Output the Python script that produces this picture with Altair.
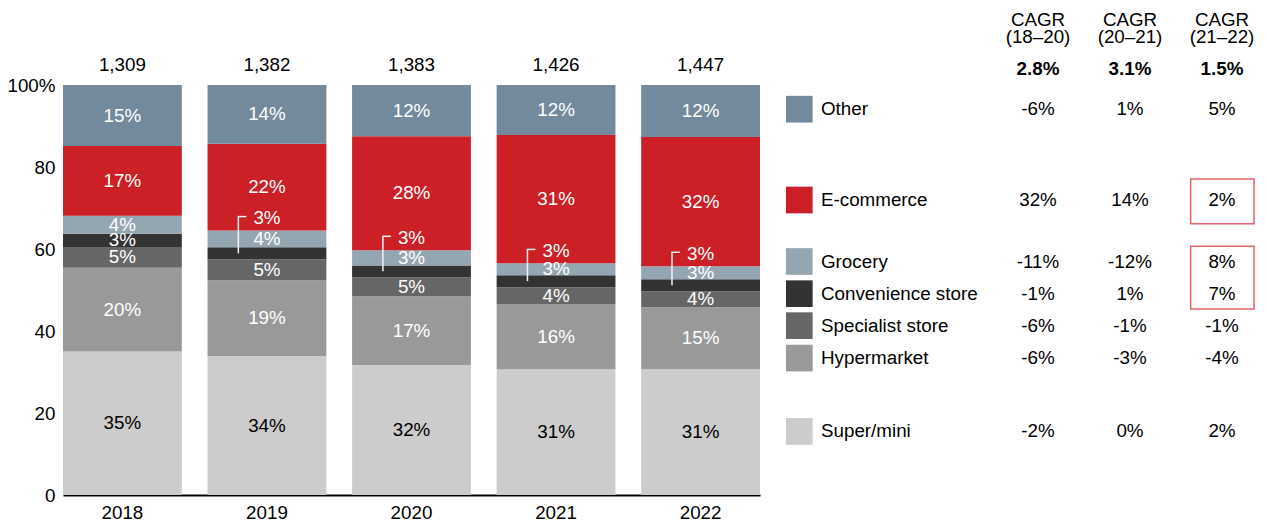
import altair as alt
import pandas as pd
import numpy as np

# ---------------- data ----------------
years = ["2018", "2019", "2020", "2021", "2022"]
totals = ["1,309", "1,382", "1,383", "1,426", "1,447"]

# stacking order: bottom -> top
categories = ["Super/mini", "Hypermarket", "Specialist store", "Convenience store",
              "Grocery", "E-commerce", "Other"]
colors = ["#cccccc", "#999999", "#666666", "#333333", "#95a6b3", "#cc1f26", "#728a9c"]
label_colors = ["#000000", "#ffffff", "#ffffff", "#ffffff", "#ffffff", "#ffffff", "#ffffff"]

super_mini = [35.0, 33.9, 31.7, 30.7, 30.7]
hypermarket = [20.4, 18.5, 16.8, 15.9, 15.1]
specialist = [5.1, 5.1, 4.6, 4.1, 3.9]
convenience = [3.2, 2.9, 2.9, 2.9, 2.9]
grocery = [4.4, 4.1, 3.7, 2.9, 3.2]
ecommerce = [17.0, 21.2, 27.8, 31.3, 31.5]
other = [14.9, 14.3, 12.5, 12.2, 12.7]

super_lbl = ["35%", "34%", "32%", "31%", "31%"]
hyper_lbl = ["20%", "19%", "17%", "16%", "15%"]
spec_lbl = ["5%", "5%", "5%", "4%", "4%"]
conv_lbl = ["3%", "3%", "3%", "3%", "3%"]
groc_lbl = ["4%", "4%", "3%", "3%", "3%"]
ecom_lbl = ["17%", "22%", "28%", "31%", "32%"]
other_lbl = ["15%", "14%", "12%", "12%", "12%"]

# legend / CAGR table, top -> bottom
legend_cats = ["Other", "E-commerce", "Grocery", "Convenience store",
               "Specialist store", "Hypermarket", "Super/mini"]
cagr_cols = ["c1", "c2", "c3"]
cagr_head1 = ["CAGR", "CAGR", "CAGR"]
cagr_head2 = ["(18–20)", "(20–21)", "(21–22)"]
cagr_total = ["2.8%", "3.1%", "1.5%"]
cagr_18_20 = ["-6%", "32%", "-11%", "-1%", "-6%", "-6%", "-2%"]
cagr_20_21 = ["1%", "14%", "-12%", "1%", "-1%", "-3%", "0%"]
cagr_21_22 = ["5%", "2%", "8%", "7%", "-1%", "-4%", "2%"]

# ---------------- layout (in y-axis units / pixels) ----------------
legend_row_y = [94.1, 71.95, 56.95, 49.1, 41.3, 33.4, 15.5]
head1_y, head2_y, head_total_y = 115.9, 111.7, 104.0
bar_total_y = 105.0
box_top = [77.07, 60.66]
box_bot = [66.17, 45.37]
FS = 18.8

series = [super_mini, hypermarket, specialist, convenience, grocery, ecommerce, other]
labels = [super_lbl, hyper_lbl, spec_lbl, conv_lbl, groc_lbl, ecom_lbl, other_lbl]

rows = []
lab_rows = []
br_rows = []
for yi, yr in enumerate(years):
    vals = [s[yi] for s in series]
    tops = np.cumsum(vals)
    bots = tops - np.array(vals)
    for ci, cat in enumerate(categories):
        rows.append({"year": yr, "cat": cat, "share": vals[ci], "ord": ci})
        mid = (tops[ci] + bots[ci]) / 2
        ly = mid
        if cat == "Convenience store" and yi > 0:
            ly = tops[4] + 3.0  # label moved above grocery, with bracket
            br_rows.append({"year": yr, "lo": mid, "hi": ly + 0.4})
        lab_rows.append({"year": yr, "txt": labels[ci][yi], "ly": ly,
                         "lc": label_colors[ci]})

df = pd.DataFrame(rows)
df_lab = pd.DataFrame(lab_rows)
df_br = pd.DataFrame(br_rows)
df_tot = pd.DataFrame({"year": years, "txt": totals, "ly": [bar_total_y] * 5})

yscale = alt.Scale(domain=[0, 100])
xscale = alt.Scale(range=[0, 697], paddingInner=0.178, paddingOuter=0)
cscale = alt.Scale(domain=categories, range=colors)

YAX = alt.Axis(title=None, values=[0, 20, 40, 60, 80, 100], grid=False,
               ticks=False, domain=False, labelFontSize=FS,
               labelColor="#000000", labelPadding=8,
               labelExpr="datum.value == 100 ? '100%' : datum.label")
XAX = alt.Axis(title=None, labelAngle=0, ticks=False, domainColor="#000000",
               domainWidth=2, labelFontSize=FS, labelColor="#000000",
               labelPadding=8)


def Y(field):
    return alt.Y(field, scale=yscale, axis=YAX)


def XB():
    return alt.X("year:N", sort=years, scale=xscale, axis=XAX)


bars = alt.Chart(df).mark_bar().encode(
    x=XB(),
    y=alt.Y("share:Q", stack="zero", scale=yscale, axis=YAX),
    color=alt.Color("cat:N", scale=cscale, legend=None),
    order=alt.Order("ord:Q"),
)

seg_labels = alt.Chart(df_lab).mark_text(fontSize=FS, baseline="middle").encode(
    x=XB(), y=Y("ly:Q"), text="txt:N",
    color=alt.Color("lc:N", scale=None),
)

tot_labels = alt.Chart(df_tot).mark_text(fontSize=FS, baseline="middle", color="#000000").encode(
    x=XB(), y=Y("ly:Q"), text="txt:N",
)

br_v = alt.Chart(df_br).mark_rule(color="#f2f2f2", strokeWidth=1.5, xOffset=-28.6).encode(
    x=XB(), y=Y("lo:Q"), y2="hi:Q",
)
br_h = alt.Chart(df_br).mark_rule(color="#f2f2f2", strokeWidth=1.5,
                                  xOffset=-29.3, x2Offset=-20.6).encode(
    x=XB(), x2="year:N", y=Y("hi:Q"),
)

bar_group = alt.layer(bars, seg_labels, tot_labels, br_v, br_h)

# ---------------- table ----------------
df_leg = pd.DataFrame({"cat": legend_cats, "ypos": legend_row_y})
swatches = alt.Chart(df_leg).mark_square(size=712, opacity=1).encode(
    x=alt.value(736.3),
    y=Y("ypos:Q"),
    color=alt.Color("cat:N", scale=cscale, legend=None),
)
names = alt.Chart(df_leg).mark_text(align="left", baseline="middle", fontSize=FS,
                                    color="#000000").encode(
    x=alt.value(758), y=Y("ypos:Q"), text="cat:N",
)

trows = []
for ci, col in enumerate(cagr_cols):
    trows.append({"col": col, "txt": cagr_head1[ci], "ypos": head1_y, "w": "normal"})
    trows.append({"col": col, "txt": cagr_head2[ci], "ypos": head2_y, "w": "normal"})
    trows.append({"col": col, "txt": cagr_total[ci], "ypos": head_total_y, "w": "bold"})
for ri in range(len(legend_cats)):
    for ci, arr in enumerate([cagr_18_20, cagr_20_21, cagr_21_22]):
        trows.append({"col": cagr_cols[ci], "txt": arr[ri], "ypos": legend_row_y[ri],
                      "w": "normal"})
df_t = pd.DataFrame(trows)

tx = alt.X("col:N", scale=alt.Scale(domain=cagr_cols, range=[975, 1159], padding=0),
           axis=None)
t_norm = alt.Chart(df_t).transform_filter("datum.w == 'normal'").mark_text(
    baseline="middle", fontSize=FS, color="#000000").encode(
    x=tx, y=Y("ypos:Q"), text="txt:N")
t_bold = alt.Chart(df_t).transform_filter("datum.w == 'bold'").mark_text(
    baseline="middle", fontSize=FS, fontWeight="bold", color="#000000").encode(
    x=tx, y=Y("ypos:Q"), text="txt:N")

df_box = pd.DataFrame({"top": box_top, "bot": box_bot})
boxes = alt.Chart(df_box).mark_rect(fillOpacity=0, stroke="#e0666b", strokeWidth=1.5).encode(
    x=alt.value(1127.7), x2=alt.value(1191),
    y=Y("top:Q"), y2="bot:Q",
)

table_group = alt.layer(t_norm, t_bold, swatches, names, boxes)

chart = alt.layer(bar_group, table_group).resolve_scale(x="independent").properties(
    width=1190, height=410,
    padding={"left": 55, "top": 77, "right": 5, "bottom": 27},
    autosize=alt.AutoSizeParams(type="none"),
).configure(font="Liberation Sans").configure_view(stroke=None)

chart.save("out.html", embed_options={"renderer": "svg", "actions": False})
